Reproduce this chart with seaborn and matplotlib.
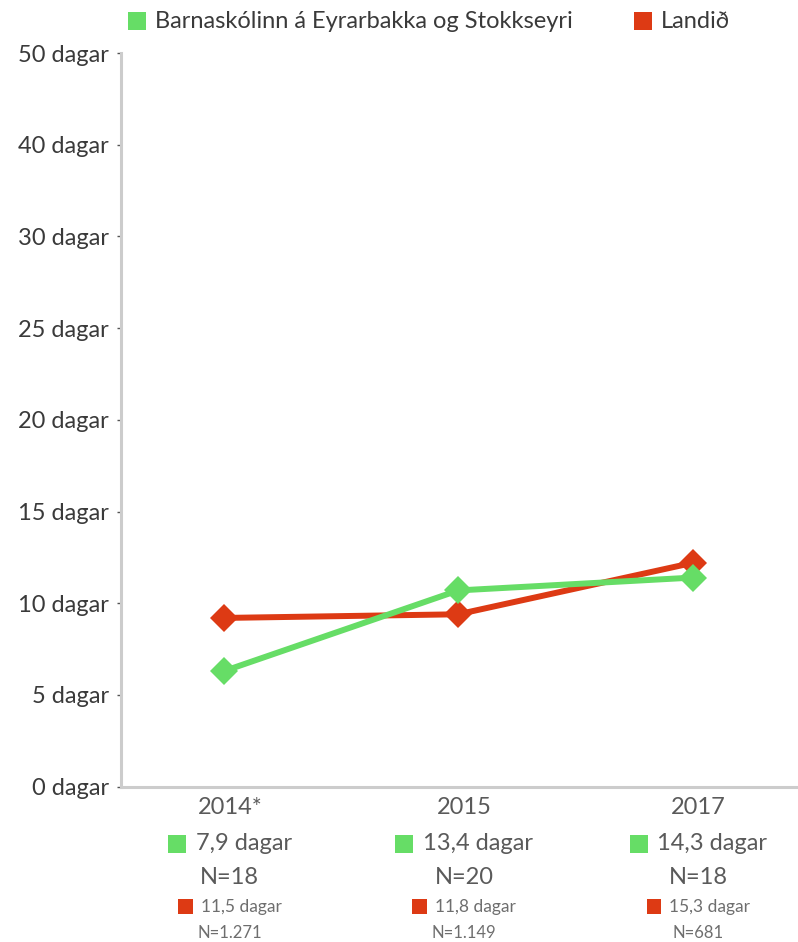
import matplotlib
matplotlib.use("Agg")
import matplotlib.pyplot as plt
from matplotlib.patches import Rectangle
from matplotlib.offsetbox import HPacker, DrawingArea, TextArea, AnnotationBbox
import seaborn as sns
import pandas as pd

# ---- data ----
years = ["2014*", "2015", "2017"]
series_names = ["Barnaskólinn á Eyrarbakka og Stokkseyri", "Landið"]
school_plot = [6.3, 10.7, 11.4]      # plotted positions
country_plot = [9.2, 9.4, 12.2]
school_labels = ["7,9 dagar", "13,4 dagar", "14,3 dagar"]
school_n = ["N=18", "N=20", "N=18"]
country_labels = ["11,5 dagar", "11,8 dagar", "15,3 dagar"]
country_n = ["N=1.271", "N=1.149", "N=681"]
ytick_vals = [0, 5, 10, 15, 20, 25, 30, 35, 40]
ytick_labels = ["0 dagar", "5 dagar", "10 dagar", "15 dagar", "20 dagar",
                "25 dagar", "30 dagar", "40 dagar", "50 dagar"]

GREEN = "#66dd66"
RED = "#dd3a14"
TXT = "#3a3a3a"
SUB = "#5a5a5a"
SMALL = "#6e6e6e"

sns.set_theme(style="white")
plt.rcParams["font.family"] = ["Lato", "DejaVu Sans"]

W, H = 798, 942
fig = plt.figure(figsize=(W / 100, H / 100), dpi=100)
ax = fig.add_axes([120.7 / W, 1 - 786.7 / H, (W - 120.7) / W, (786.7 - 53) / H])

df = pd.DataFrame({
    "x": list(range(len(years))) * 2,
    "value": school_plot + country_plot,
    "series": [series_names[0]] * len(years) + [series_names[1]] * len(years),
})
sns.lineplot(data=df, x="x", y="value", hue="series",
             palette={series_names[0]: GREEN, series_names[1]: RED},
             hue_order=[series_names[1], series_names[0]],
             marker="D", markersize=14, markeredgewidth=0, linewidth=4.3,
             legend=False, ax=ax)

ax.set_xlim(-0.44, 2.45)
ax.set_ylim(0, 40)
ax.set_yticks(ytick_vals)
ax.set_yticklabels(ytick_labels, fontsize=17, color=TXT)
ax.set_xticks([])
ax.set_xlabel("")
ax.set_ylabel("")
ax.tick_params(axis="y", left=True, length=3, width=1, color="#555555", pad=5.5)
for s in ["top", "right"]:
    ax.spines[s].set_visible(False)
for s in ["left", "bottom"]:
    ax.spines[s].set_color("#cccccc")
    ax.spines[s].set_linewidth(2.2)
ax.grid(False)

# ---- labels below the axis ----
def swatch(color, size):
    da = DrawingArea(size, size, 0, 0)
    da.add_artist(Rectangle((0, 0), size, size, facecolor=color, edgecolor="none"))
    return da

for i in range(len(years)):
    xy_base = dict(xycoords=("data", "axes fraction"))
    ax.annotate(years[i], xy=(i, 0), xytext=(6, -21), textcoords="offset pixels",
                ha="center", va="center", fontsize=17, color=SUB, **xy_base)
    box = HPacker(children=[swatch(GREEN, 13),
                            TextArea(school_labels[i], textprops=dict(fontsize=17, color=SUB))],
                  sep=7, align="center", pad=0)
    ab = AnnotationBbox(box, (i, 0), xybox=(6, -57), boxcoords="offset pixels",
                        xycoords=("data", "axes fraction"), frameon=False,
                        box_alignment=(0.5, 0.5))
    ax.add_artist(ab)
    ax.annotate(school_n[i], xy=(i, 0), xytext=(6, -91), textcoords="offset pixels",
                ha="center", va="center", fontsize=17, color=SUB, **xy_base)
    box2 = HPacker(children=[swatch(RED, 10.5),
                             TextArea(country_labels[i], textprops=dict(fontsize=12.5, color=SMALL))],
                   sep=6, align="center", pad=0)
    ab2 = AnnotationBbox(box2, (i, 0), xybox=(6, -120), boxcoords="offset pixels",
                         xycoords=("data", "axes fraction"), frameon=False,
                         box_alignment=(0.5, 0.5))
    ax.add_artist(ab2)
    ax.annotate(country_n[i], xy=(i, 0), xytext=(6, -146), textcoords="offset pixels",
                ha="center", va="center", fontsize=12, color=SMALL, **xy_base)

# ---- top legend ----
for (x0, color, name) in [(128, GREEN, series_names[0]), (634, RED, series_names[1])]:
    fig.patches.append(Rectangle((x0 / W, 1 - 30 / H), 18 / W, 18 / H,
                                 transform=fig.transFigure, facecolor=color,
                                 edgecolor="none"))
    fig.text((x0 + 27) / W, 1 - 21 / H, name, fontsize=17, color=TXT,
             ha="left", va="center")

fig.savefig("out.png", dpi=100)
